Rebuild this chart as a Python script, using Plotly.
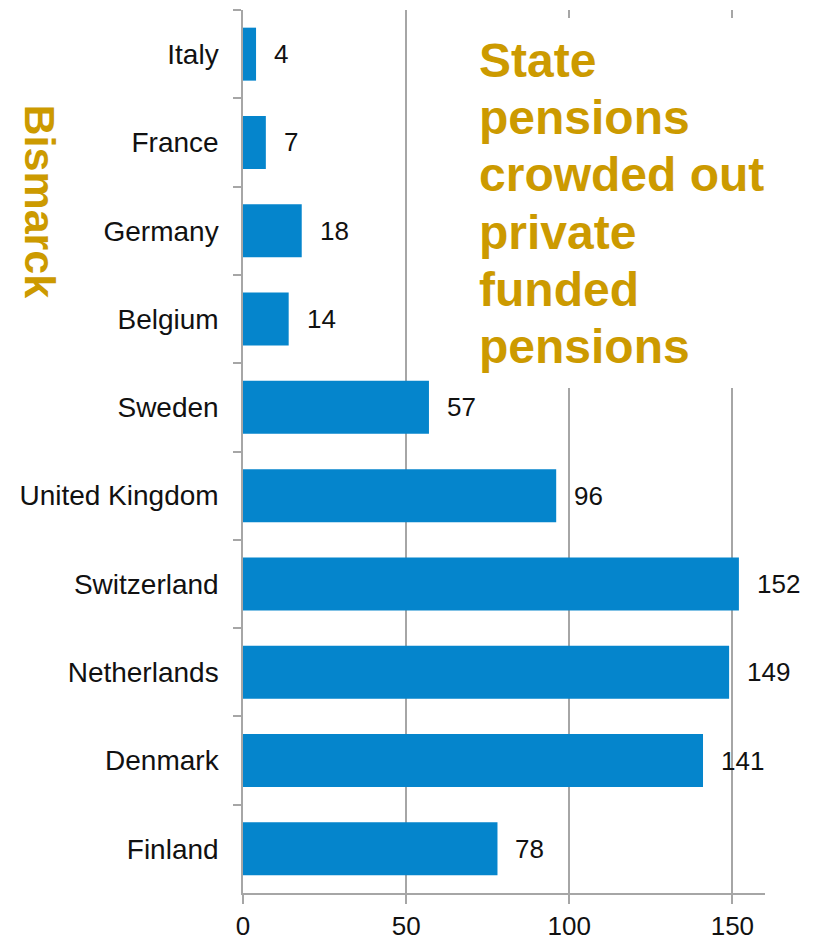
import plotly.graph_objects as go

# Funded pension assets by country (% of GDP)
countries = ["Italy", "France", "Germany", "Belgium", "Sweden",
             "United Kingdom", "Switzerland", "Netherlands", "Denmark", "Finland"]
values = [4, 7, 18, 14, 57, 96, 152, 149, 141, 78]
x_ticks = [0, 50, 100, 150]

note_lines = ["State", "pensions", "crowded out", "private", "funded", "pensions"]
side_label = "Bismarck"

BAR = "#0585CC"
GOLD = "#CC9A00"
GRID = "#A6A6A6"
FONT = "Liberation Sans"

W, H = 816, 940
L, R, T, B = 243, 51, 10, 47
PW, PH = W - L - R, H - T - B


def px_x(p):
    return (p - L) / PW


def px_y(p):
    return (H - B - p) / PH


fig = go.Figure(go.Bar(
    x=values, y=countries, orientation="h",
    marker=dict(color=BAR, line=dict(width=0)),
    width=0.6, hoverinfo="skip",
))

# value labels next to each bar
for c, v in zip(countries, values):
    fig.add_annotation(x=v, y=c, xref="x", yref="y", text=str(v),
                       showarrow=False, xanchor="left", yanchor="middle",
                       xshift=16, font=dict(family=FONT, size=26, color="#111111"))

# white panel behind the commentary
fig.add_shape(type="rect", xref="paper", yref="paper",
              x0=px_x(470), x1=px_x(805), y0=px_y(388), y1=px_y(18),
              fillcolor="white", line=dict(width=0), layer="above")

baselines = [77.3, 134.5, 191.7, 248.9, 306.1, 363.3]
for line, base in zip(note_lines, baselines):
    fig.add_annotation(x=px_x(477), y=px_y(base - 16.8), xref="paper", yref="paper",
                       text="<b>%s</b>" % line, showarrow=False,
                       xanchor="left", yanchor="middle",
                       font=dict(family=FONT, size=48, color=GOLD))

fig.add_annotation(x=px_x(39.5), y=px_y(201), xref="paper", yref="paper",
                   text="<b>%s</b>" % side_label, showarrow=False, textangle=90,
                   xanchor="center", yanchor="middle",
                   font=dict(family=FONT, size=43, color=GOLD))

fig.update_layout(
    width=W, height=H,
    margin=dict(l=L, r=R, t=T, b=B),
    paper_bgcolor="white", plot_bgcolor="white",
    showlegend=False,
    font=dict(family=FONT, size=26, color="#111111"),
    xaxis=dict(range=[0, 160], tickvals=x_ticks, ticktext=[str(t) for t in x_ticks],
               automargin=False,
               showgrid=True, gridcolor=GRID, gridwidth=1.5, zeroline=False,
               showline=True, linecolor=GRID, linewidth=1.5,
               ticks="outside", ticklen=9, tickcolor=GRID, tickwidth=1.5,
               tickfont=dict(family=FONT, size=26, color="#111111")),
    yaxis=dict(categoryorder="array", categoryarray=countries, autorange="reversed",
               automargin=False,
               showgrid=False, zeroline=False,
               showline=True, linecolor=GRID, linewidth=1.5,
               ticks="outside", ticklen=8, tickcolor=GRID, tickwidth=1.5,
               tickson="boundaries", ticklabelstandoff=17,
               tickfont=dict(family=FONT, size=28, color="#111111")),
)

fig.write_html("out.html")
